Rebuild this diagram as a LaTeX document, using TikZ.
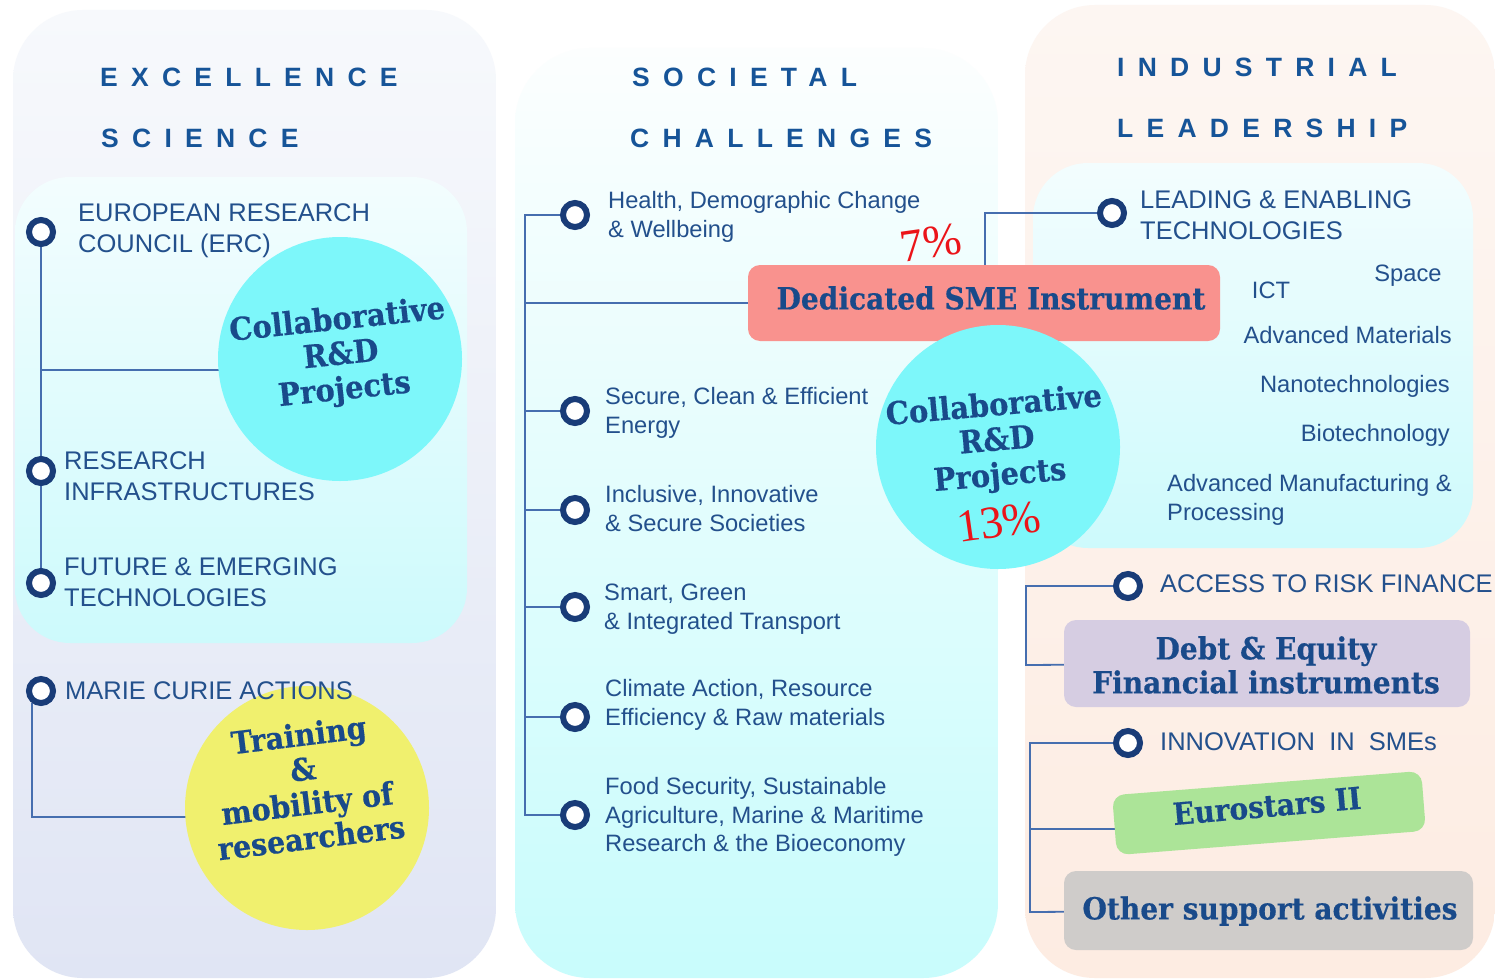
\documentclass[tikz,border=0pt]{standalone}
\usepackage{fontspec}
\setmainfont{Liberation Sans}
\newfontfamily\hdrfont{Liberation Sans}[LetterSpace=50]
\newfontfamily\srffont{DejaVu Serif}[FakeStretch=0.92, BoldFeatures={FakeBold=0.4}]
\newfontfamily\tmsfont{Liberation Serif}
\usetikzlibrary{calc}
\definecolor{hdrblue}{RGB}{22,84,152}
\definecolor{txtblue}{RGB}{35,80,140}
\definecolor{srfblue}{RGB}{25,74,138}
\definecolor{ringcol}{RGB}{25,60,120}
\definecolor{wirecol}{RGB}{70,110,175}
\definecolor{cyanball}{RGB}{125,247,250}
\definecolor{yellowball}{RGB}{240,240,110}
\definecolor{salmon}{RGB}{249,146,142}
\definecolor{lavender}{RGB}{214,205,226}
\definecolor{lgreen}{RGB}{172,228,152}
\definecolor{lgray}{RGB}{207,204,202}
\definecolor{pctred}{RGB}{235,20,25}
\pgfdeclarelayer{back}
\pgfdeclarelayer{mid}
\pgfsetlayers{back,mid,main}
\begin{document}
\begin{tikzpicture}[x=1pt,y=-1pt,
  hdr/.style={font=\hdrfont\bfseries\fontsize{26.5}{30}\selectfont, text=hdrblue, inner sep=0pt, anchor=west},
  itemL/.style={font=\fontsize{25.5}{31}\selectfont, text=txtblue, inner sep=0pt, anchor=west, align=left},
  itemM/.style={font=\fontsize{23.7}{29}\selectfont, text=txtblue, inner sep=0pt, anchor=west, align=left},
  marker/.style={circle, draw=ringcol, line width=6pt, fill=white, minimum size=24pt, inner sep=0pt},
  wire/.style={draw=wirecol, line width=1.8pt},
  ball/.style={circle, inner sep=0pt, minimum size=244pt},
  srftext/.style={font=\srffont\bfseries\fontsize{30.5}{34}\selectfont, text=srfblue, align=center, inner sep=0pt},
  balltext/.style={font=\srffont\bfseries\fontsize{31.5}{35}\selectfont, text=srfblue, align=center, inner sep=0pt},
  pct/.style={font=\tmsfont\fontsize{46}{46}\selectfont, text=pctred, inner sep=0pt},
  boxr/.style={rounded corners=12pt, inner sep=0pt}
]
\useasboundingbox (0,0) rectangle (1495,979);
% ---------- panels ----------
\begin{pgfonlayer}{back}
\fill[white] (0,0) rectangle (1495,979);
\path[rounded corners=70pt, top color={rgb,255:red,247;green,249;blue,252}, bottom color={rgb,255:red,224;green,229;blue,244}] (13,10) rectangle (496,978);
\path[rounded corners=55pt, top color={rgb,255:red,243;green,253;blue,254}, bottom color={rgb,255:red,205;green,250;blue,252}] (15,177) rectangle (467,643);
\path[rounded corners=75pt, top color={rgb,255:red,252;green,254;blue,254}, bottom color={rgb,255:red,200;green,252;blue,252}] (515,48) rectangle (998,978);
\path[rounded corners=70pt, top color={rgb,255:red,253;green,246;blue,242}, bottom color={rgb,255:red,253;green,236;blue,226}] (1025,5) rectangle (1495,978);
\path[rounded corners=55pt, top color={rgb,255:red,243;green,253;blue,254}, bottom color={rgb,255:red,205;green,250;blue,252}] (1033,163) rectangle (1473,548);
\end{pgfonlayer}
% ---------- headers ----------
\node[hdr] (exc1) at (100,77) {EXCELLENCE};
\node[hdr] (exc2) at (101,138) {SCIENCE};
\node[hdr] (soc1) at (632,77) {SOCIETAL};
\node[hdr] (soc2) at (630,138) {CHALLENGES};
\node[hdr] (ind1) at (1117,67) {INDUSTRIAL};
\node[hdr] (ind2) at (1117,128) {LEADERSHIP};
% ---------- balls and boxes ----------
\node[ball, fill=cyanball] (collabA) at (340,359) {};
\node[ball, fill=yellowball] (trainB) at (307,808) {};
\node[boxr, fill=salmon, minimum width=472pt, minimum height=76pt] (sme) at (984,303) {};
\node[ball, fill=cyanball] (collabC) at (998,447) {};
\node[boxr, fill=lavender, minimum width=406pt, minimum height=87pt] (debt) at (1267,663.5) {};
\node[boxr, fill=lgreen, minimum width=310pt, minimum height=60pt, rotate=4.5] (euro) at (1269,813) {};
\node[boxr, fill=lgray, minimum width=409pt, minimum height=79pt] (other) at (1268.5,910.5) {};
% ---------- markers ----------
\node[marker] (erc) at (41,232) {};
\node[marker] (ri) at (41,471) {};
\node[marker] (fet) at (41,583) {};
\node[marker] (mca) at (41,691) {};
\node[marker] (health) at (575,215) {};
\node[marker] (secure) at (575,411) {};
\node[marker] (incl) at (575,510) {};
\node[marker] (smart) at (575,607) {};
\node[marker] (climate) at (575,717) {};
\node[marker] (food) at (575,815) {};
\node[marker] (leading) at (1112,213) {};
\node[marker] (access) at (1128,586) {};
\node[marker] (innov) at (1128,743) {};
% ---------- wires ----------
\coordinate (lj) at (41,370);
\coordinate (mj) at (34,817);
\coordinate (mt) at (525,215);
\coordinate (mb) at (525,815);
\coordinate (su) at (985,300);
\coordinate (ra) at (1026,665);
\coordinate (rb) at (1030,912);
\coordinate (rc) at (1030,829);
\begin{pgfonlayer}{mid}
\draw[wire] (erc) -- (fet);
\draw[wire] (lj) -- (lj -| collabA);
\draw[wire] (mca.235) |- (mj) -- (mj -| trainB);
\draw[wire] (health) -- (mt) -- (mb) -- (food);
\foreach \n in {secure,incl,smart,climate} \draw[wire] (\n) -- (\n -| mt);
\draw[wire] (sme) -- (sme -| mt);
\draw[wire] (su) |- (leading);
\draw[wire] (access) -| (ra) -- (debt);
\draw[wire] (innov) -| (rb) -- (other);
\draw[wire] (rc) -- (rc -| euro);
\end{pgfonlayer}
% ---------- texts ----------
\node[itemL] (ercT) at (78,231) {EUROPEAN RESEARCH\\COUNCIL (ERC)};
\node[itemL] (riT) at (64,476) {RESEARCH\\INFRASTRUCTURES};
\node[itemL] (fetT) at (64,582) {FUTURE \& EMERGING\\TECHNOLOGIES};
\node[itemL] (mcaT) at (65,691) {MARIE CURIE ACTIONS};
\node[balltext, rotate=6] (collabAT) at (341,356) {Collaborative\\R\&D\\Projects};
\node[balltext, rotate=7, font=\srffont\bfseries\fontsize{31}{34.5}\selectfont] (trainBT) at (305,786) {Training\\\&\\mobility of\\researchers};
\node[itemM] (healthT) at (608,217) {Health, Demographic Change\\\& Wellbeing};
\node[itemM] (secureT) at (605,413) {Secure, Clean \& Efficient\\Energy};
\node[itemM] (inclT) at (605,509) {Inclusive, Innovative\\\& Secure Societies};
\node[itemM] (smartT) at (604,609) {Smart, Green\\\& Integrated Transport};
\node[itemM] (climateT) at (605,705) {Climate Action, Resource\\Efficiency \& Raw materials};
\node[itemM, font=\fontsize{23.7}{28.5}\selectfont] (foodT) at (605,817) {Food Security, Sustainable\\Agriculture, Marine \& Maritime\\Research \& the Bioeconomy};
\node[srftext] (smeT) at (991,298) {Dedicated SME Instrument};
\node[pct, rotate=8] (p7) at (931,243) {7\%};
\node[balltext, rotate=5] (collabCT) at (997,442) {Collaborative\\R\&D\\Projects};
\node[pct, rotate=8] (p13) at (999,522) {13\%};
\node[itemL] (leadingT) at (1140,215) {LEADING \& ENABLING\\TECHNOLOGIES};
\node[itemM, anchor=center] (spaceT) at (1408,276) {Space};
\node[itemM, anchor=center] (ictT) at (1271,290) {ICT};
\node[itemM, anchor=east] (advmatT) at (1452,335) {Advanced Materials};
\node[itemM, anchor=east] (nanoT) at (1450,386) {Nanotechnologies};
\node[itemM, anchor=east] (bioT) at (1450,435) {Biotechnology};
\node[itemM] (advmanT) at (1167,500) {Advanced Manufacturing \&\\Processing};
\node[itemL] (accessT) at (1160,584) {ACCESS TO RISK FINANCE};
\node[srftext] (debtT) at (1266,665) {Debt \& Equity\\Financial instruments};
\node[itemL] (innovT) at (1160,742) {INNOVATION \ IN \ SMEs};
\node[srftext, rotate=5] (euroT) at (1267,806) {Eurostars II};
\node[srftext] (otherT) at (1270,911) {Other support activities};
\end{tikzpicture}
\end{document}
